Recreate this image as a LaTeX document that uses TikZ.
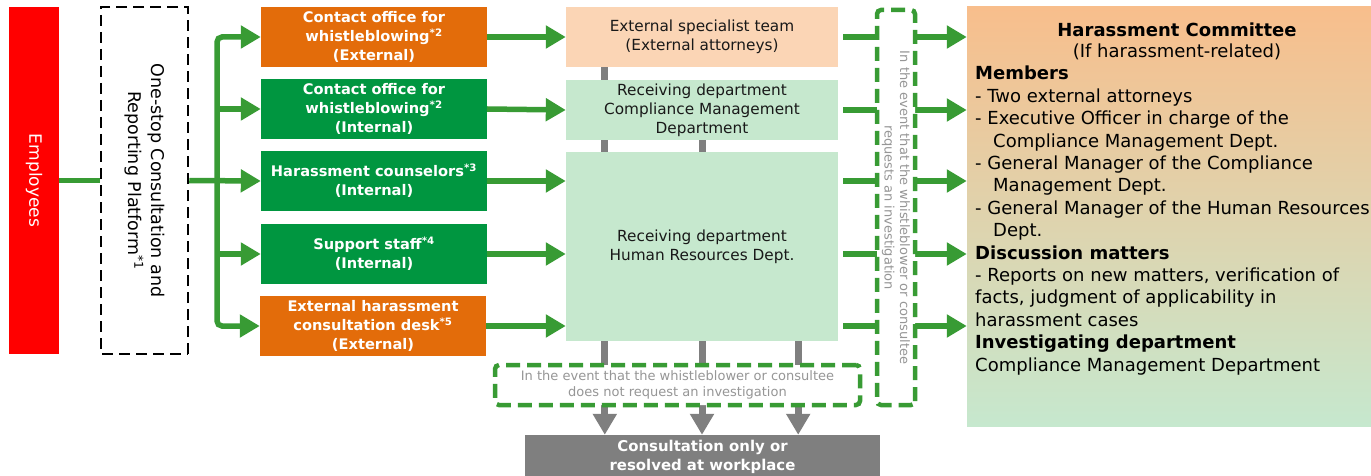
\documentclass[tikz,border=0pt]{standalone}
\usepackage{fontspec}
\setmainfont{DejaVu Sans}
\usetikzlibrary{arrows.meta}

\definecolor{arrowgreen}{RGB}{56,155,52}
\definecolor{boxgreen}{RGB}{0,150,64}
\definecolor{boxorange}{RGB}{227,108,10}
\definecolor{peach}{RGB}{251,213,181}
\definecolor{palegreen}{RGB}{198,232,206}
\definecolor{midgray}{RGB}{127,127,127}
\definecolor{notegray}{RGB}{150,150,150}
\definecolor{commtop}{RGB}{248,190,140}
\definecolor{empred}{RGB}{255,0,0}

\begin{document}
\begin{tikzpicture}[x=1pt,y=-1pt,
  gline/.style={draw=arrowgreen,line width=5.5pt},
  garrow/.style={gline,-{Triangle[length=20pt,width=22pt]}},
  grayline/.style={draw=midgray,line width=7pt},
  grayarrow/.style={grayline,-{Triangle[length=21pt,width=23pt]}},
  channel/.style={minimum width=226pt,minimum height=60pt,inner sep=0pt,
    align=center,text=white,font=\bfseries\fontsize{14.6}{19}\selectfont},
  dept/.style={minimum width=272pt,inner sep=0pt,align=center,
    font=\fontsize{15.3}{19}\selectfont,text=black!90},
  note/.style={draw=arrowgreen,line width=4.5pt,dash pattern=on 14pt off 7pt,
    rounded corners=4pt,fill=white,inner sep=0pt,align=center,
    text=notegray,font=\fontsize{13}{15.5}\selectfont}]
\useasboundingbox (0,0) rectangle (1371,476);

% reporting persons and the one-stop platform
\node[fill=empred,text=white,rotate=-90,minimum width=347pt,minimum height=50pt,
  inner sep=0pt,font=\fontsize{17}{20}\selectfont] (emp) at (34,180.5) {Employees};
\node[draw=black,line width=2.5pt,dash pattern=on 11pt off 6pt,rotate=-90,
  minimum width=347pt,minimum height=87pt,inner sep=0pt,align=center,
  font=\fontsize{17.5}{23}\selectfont] (plat) at (144.5,180.5)
  {One-stop Consultation and\\Reporting Platform\textsuperscript{*1}};

% contact channels
\node[channel,fill=boxorange] (b1) at (374,37)
  {Contact office for\\whistleblowing\textsuperscript{*2}\\(External)};
\node[channel,fill=boxgreen] (b2) at (374,109)
  {Contact office for\\whistleblowing\textsuperscript{*2}\\(Internal)};
\node[channel,fill=boxgreen] (b3) at (374,181)
  {Harassment counselors\textsuperscript{*3}\\(Internal)};
\node[channel,fill=boxgreen] (b4) at (374,254)
  {Support staff\textsuperscript{*4}\\(Internal)};
\node[channel,fill=boxorange] (b5) at (373,326)
  {External harassment\\consultation desk\textsuperscript{*5}\\(External)};

% receiving departments
\node[dept,fill=peach,minimum height=60pt] (ext) at (702,37)
  {External specialist team\\(External attorneys)};
\node[dept,fill=palegreen,minimum height=60pt] (comp) at (702,110)
  {Receiving department\\Compliance Management\\Department};
\node[dept,fill=palegreen,minimum height=189pt] (hr) at (702,246.5)
  {Receiving department\\Human Resources Dept.};

% outcome without investigation
\node[fill=midgray,text=white,minimum width=355pt,minimum height=44pt,inner sep=0pt,
  align=center,font=\bfseries\fontsize{14.9}{19}\selectfont] (cons) at (702.5,457)
  {Consultation only or\\resolved at workplace};

% harassment committee
\node[top color=commtop,bottom color=palegreen,minimum width=413pt,
  minimum height=419pt,inner sep=0pt] (comm) at (1173.5,216.5) {};
\node[align=center,inner sep=0pt,font=\fontsize{18}{21}\selectfont] (commhead)
  at (1177,41) {\textbf{Harassment Committee}\\(If harassment-related)};
\node[anchor=north west,align=left,inner sep=0pt,font=\fontsize{18}{22.4}\selectfont]
  (commbody) at (975,66)
  {\textbf{Members}\\
   - Two external attorneys\\
   - Executive Officer in charge of the\\
   \hspace*{18pt}Compliance Management Dept.\\
   - General Manager of the Compliance\\
   \hspace*{18pt}Management Dept.\\
   - General Manager of the Human Resources\\
   \hspace*{18pt}Dept.\\
   \textbf{Discussion matters}\\
   - Reports on new matters, verification of\\
   facts, judgment of applicability in\\
   harassment cases\\
   \textbf{Investigating department}\\
   Compliance Management Department};

% employees -> platform -> channels
\coordinate (trunk) at (217,181);
\draw[gline] (emp.north) -- (plat.south);
\draw[gline,rounded corners=5pt,
  arrows={Triangle[length=20pt,width=22pt]-Triangle[length=20pt,width=22pt]}]
  (b1.west) -- (trunk |- b1.west) -- (trunk |- b5.west) -- (b5.west);
\draw[garrow] (trunk |- b2.west) -- (b2.west);
\draw[garrow] (plat.north) -- (b3.west);
\draw[garrow] (trunk |- b4.west) -- (b4.west);

% channels -> receiving departments
\draw[garrow] (b1.east) -- (ext.west);
\draw[garrow] (b2.east) -- (comp.west);
\draw[garrow] (b3.east) -- (hr.west |- b3.east);
\draw[garrow] (b4.east) -- (hr.west |- b4.east);
\draw[garrow] (b5.east) -- (hr.west |- b5.east);

% links between the receiving departments
\draw[grayline] ([xshift=39pt]ext.south west) -- ([xshift=39pt]comp.north west);
\draw[grayline] ([xshift=39pt]comp.south west) -- ([xshift=39pt]hr.north west);
\draw[grayline] (comp.south) -- (hr.north);

% departments -> consultation only
\draw[grayarrow] ([xshift=39pt]hr.south west) -- ([xshift=39pt]hr.south west |- cons.north);
\draw[grayarrow] (hr.south) -- (hr.south |- cons.north);
\draw[grayarrow] ([xshift=-40pt]hr.south east) -- ([xshift=-40pt]hr.south east |- cons.north);
\node[note,minimum width=365pt,minimum height=40pt] (nonote) at (677.5,385)
  {In the event that the whistleblower or consultee\\does not request an investigation};

% departments -> committee
\draw[garrow] ([xshift=5pt]ext.east) -- (comm.west |- ext.east);
\draw[garrow] ([xshift=5pt]comp.east) -- (comm.west |- comp.east);
\draw[garrow] ([xshift=5pt]hr.east |- b3.east) -- (comm.west |- b3.east);
\draw[garrow] ([xshift=5pt]hr.east |- b4.east) -- (comm.west |- b4.east);
\draw[garrow] ([xshift=5pt]hr.east |- b5.east) -- (comm.west |- b5.east);
\node[note,rotate=-90,minimum width=395pt,minimum height=38pt] (yesnote) at (896,207.5)
  {In the event that the whistleblower or consultee\\requests an investigation};
\end{tikzpicture}
\end{document}
